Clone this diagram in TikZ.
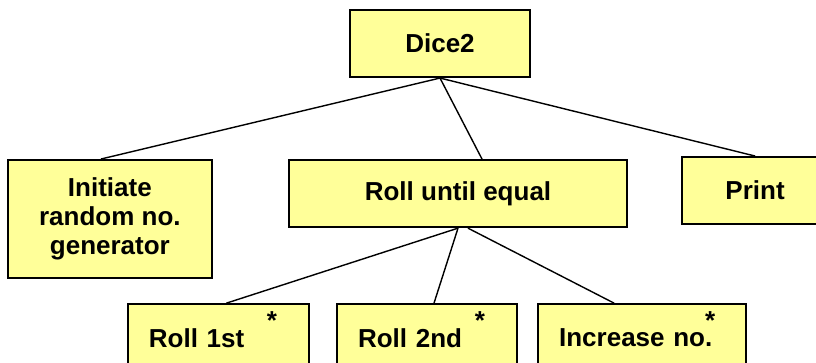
\documentclass[tikz,border=0pt]{standalone}
\usepackage{fontspec}
\setmainfont{Liberation Sans}
\usepackage{xcolor}
\usepackage{tikz}
\usetikzlibrary{positioning}
\definecolor{pale}{HTML}{FFFF99}
\tikzset{
  box/.style={draw=black, fill=pale, line width=1.5pt, align=center,
              font=\fontsize{18.5}{20.6}\selectfont\bfseries, minimum height=1.675cm, inner sep=0pt},
  leaf/.style={box, text width=#1, align=left, inner xsep=0.525cm},
  itermark/.style={font=\fontsize{18.5}{20.6}\selectfont\bfseries, inner sep=0pt},
  link/.style={line width=1pt, draw=black},
}

\begin{document}
\begin{tikzpicture}[node distance=1.875cm and 0.5cm]
  \useasboundingbox (0,0) rectangle (20.4,-9.075);
  \node[box, minimum width=4.5cm] (dice) at (11.0,-1.0875) {Dice2};
  \node[box, minimum width=8.45cm, below=2.025cm of dice, xshift=0.45cm] (rue) {Roll until equal};
  \node[box, minimum width=5.1cm, minimum height=2.95cm, below left=0cm and 1.875cm of rue.north west] (init) {Initiate\\random no.\\generator};
  \node[box, minimum width=3.65cm, right=1.325cm of rue, yshift=0.075cm] (print) {Print};
  \node[leaf=3.45cm, below=of rue, xshift=-0.775cm] (r2) {Roll 2nd};
  \node[leaf=3.475cm, left=0.65cm of r2] (r1) {Roll 1st};
  \node[leaf=4.15cm, right=0.475cm of r2] (inc) {Increase no.};
  % iteration marks, top right of each leaf
  \node[itermark, below=0.2cm of r1.north east, xshift=-0.95cm] (r1s) {*};
  \node[itermark, below=0.2cm of r2.north east, xshift=-0.95cm] (r2s) {*};
  \node[itermark, below=0.2cm of inc.north east, xshift=-0.925cm] (incs) {*};
  \draw[link] (dice.south) -- ([xshift=-0.225cm]init.north);
  \draw[link] (dice.south) -- ([xshift=0.6cm]rue.north);
  \draw[link] (dice.south) -- (print.north);
  \draw[link] (rue.south) -- ([xshift=0.2cm]r1.north);
  \draw[link] (rue.south) -- ([xshift=0.175cm]r2.north);
  \draw[link] ([xshift=0.25cm]rue.south) -- ([xshift=-0.7cm]inc.north);
\end{tikzpicture}
\end{document}
